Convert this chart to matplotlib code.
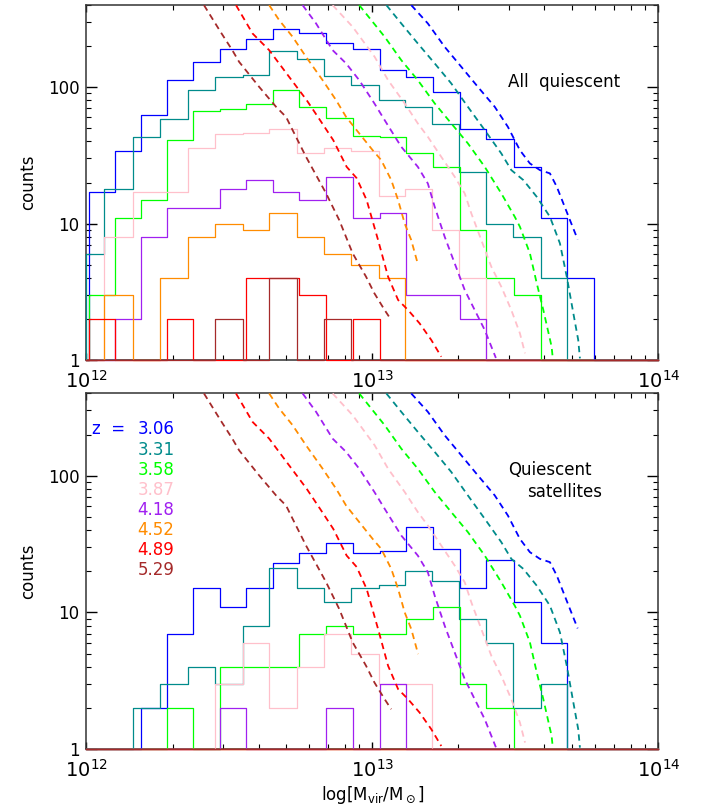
import numpy as np
import matplotlib
matplotlib.use('Agg')
import matplotlib.pyplot as plt
from matplotlib.ticker import NullFormatter, LogLocator, FixedLocator, FixedFormatter

# redshift labels and colours
redshifts = ['3.06', '3.31', '3.58', '3.87', '4.18', '4.52', '4.89', '5.29']
colors = ['#0000ff', '#008b8b', '#00ff00', '#ffc0cb', '#a020f0', '#ff8c00', '#ff0000', '#a52a2a']

# the two bin grids used by the histograms (log10 Mvir)
edges_a = [12.009, 12.099, 12.190, 12.281, 12.373, 12.466, 12.558, 12.651, 12.744, 12.838,
           12.931, 13.026, 13.119, 13.212, 13.305, 13.398, 13.494, 13.589, 13.682, 13.776]
edges_b = [11.965, 12.061, 12.162, 12.258, 12.354, 12.449, 12.546, 12.639, 12.735, 12.830,
           12.926, 13.022, 13.115, 13.208, 13.303, 13.398, 13.492, 13.589, 13.680]
grid_of = ['a', 'b', 'a', 'b', 'a', 'b', 'a', 'b']

# top panel: all quiescent (first bin index, counts)
all_start = [0, 0, 0, 1, 1, 1, 0, 5]
all_306 = [17, 34, 63, 112, 152, 192, 225, 269, 250, 212, 191, 133, 119, 92, 49, 42, 26, 11, 4]
all_331 = [6, 18, 43, 58, 96, 118, 122, 185, 162, 120, 103, 80, 72, 54, 24, 10, 8, 4]
all_358 = [3, 11, 15, 41, 67, 69, 75, 95, 71, 59, 44, 43, 33, 26, 9, 4, 3]
all_387 = [8, 17, 17, 36, 45, 46, 49, 33, 36, 34, 16, 18, 9, 4]
all_418 = [2, 8, 13, 13, 18, 21, 17, 15, 22, 11, 12, 3, 3, 2]
all_452 = [3, 0, 4, 8, 10, 9, 12, 8, 6, 5, 4]
all_489 = [2, 0, 0, 2, 0, 0, 4, 4, 3, 0, 2]
all_529 = [2, 0, 4, 0, 2]

# bottom panel: quiescent satellites
sat_start = [2, 2, 3, 5, 5, 0, 0, 0]
sat_306 = [2, 7, 15, 11, 15, 23, 27, 32, 27, 28, 42, 29, 15, 24, 12, 6]
sat_331 = [2, 3, 4, 3, 8, 21, 15, 12, 15, 16, 20, 17, 9, 6, 2, 3]
sat_358 = [2, 0, 4, 4, 4, 7, 8, 7, 7, 9, 11, 3, 2]
sat_387 = [3, 6, 2, 4, 7, 5, 3, 3]
sat_418 = [2, 0, 0, 0, 2, 0, 3]
sat_452 = []
sat_489 = []
sat_529 = []

# dashed curves (log10 M, log10 N)
hmf_306_m = [13.136, 13.194, 13.253, 13.311, 13.369, 13.428, 13.474, 13.516, 13.551, 13.586, 13.621, 13.645, 13.668, 13.691, 13.718]
hmf_306_n = [2.601, 2.467, 2.295, 2.149, 2.002, 1.856, 1.709, 1.538, 1.441, 1.392, 1.368, 1.270, 1.148, 1.026, 0.884]
hmf_331_m = [13.049, 13.101, 13.159, 13.218, 13.276, 13.334, 13.393, 13.451, 13.486, 13.528, 13.575, 13.621, 13.656, 13.680, 13.703, 13.720, 13.726]
hmf_331_n = [2.601, 2.467, 2.320, 2.174, 2.027, 1.856, 1.685, 1.514, 1.392, 1.319, 1.196, 1.050, 0.855, 0.610, 0.342, 0.147, 0.012]
hmf_358_m = [12.954, 13.043, 13.101, 13.159, 13.218, 13.276, 13.334, 13.393, 13.451, 13.498, 13.516, 13.551, 13.575, 13.598, 13.627, 13.631]
hmf_358_n = [2.601, 2.369, 2.198, 2.051, 1.881, 1.734, 1.588, 1.416, 1.221, 1.050, 0.977, 0.782, 0.562, 0.366, 0.097, 0.012]
hmf_387_m = [12.861, 12.931, 13.008, 13.055, 13.113, 13.159, 13.194, 13.241, 13.288, 13.323, 13.346, 13.381, 13.416, 13.451, 13.486, 13.516, 13.534]
hmf_387_n = [2.601, 2.442, 2.222, 2.051, 1.881, 1.734, 1.636, 1.489, 1.343, 1.221, 1.075, 0.879, 0.684, 0.537, 0.366, 0.196, 0.049]
hmf_418_m = [12.756, 12.803, 12.861, 12.908, 12.954, 13.007, 13.043, 13.101, 13.159, 13.194, 13.218, 13.253, 13.288, 13.323, 13.358, 13.393, 13.432]
hmf_418_n = [2.601, 2.467, 2.271, 2.174, 2.051, 1.881, 1.758, 1.563, 1.416, 1.294, 1.123, 0.903, 0.708, 0.513, 0.366, 0.220, 0.015]
hmf_452_m = [12.639, 12.674, 12.721, 12.768, 12.826, 12.873, 12.908, 12.954, 13.001, 13.031, 13.066, 13.090, 13.113, 13.136, 13.160]
hmf_452_n = [2.601, 2.491, 2.369, 2.222, 2.051, 1.905, 1.782, 1.661, 1.538, 1.465, 1.319, 1.172, 1.001, 0.879, 0.696]
hmf_489_m = [12.523, 12.581, 12.639, 12.700, 12.770, 12.817, 12.863, 12.910, 12.945, 12.980, 13.020, 13.055, 13.090, 13.125, 13.165, 13.206, 13.241]
hmf_489_n = [2.601, 2.393, 2.271, 2.100, 1.905, 1.758, 1.612, 1.416, 1.333, 1.172, 0.879, 0.610, 0.440, 0.366, 0.269, 0.147, 0.024]
hmf_529_m = [12.411, 12.469, 12.510, 12.534, 12.604, 12.663, 12.698, 12.721, 12.768, 12.838, 12.884, 12.931, 12.978, 13.007, 13.043, 13.066]
hmf_529_n = [2.601, 2.405, 2.271, 2.185, 2.002, 1.856, 1.782, 1.685, 1.489, 1.222, 1.026, 0.782, 0.610, 0.489, 0.366, 0.293]

all_counts = [all_306, all_331, all_358, all_387, all_418, all_452, all_489, all_529]
sat_counts = [sat_306, sat_331, sat_358, sat_387, sat_418, sat_452, sat_489, sat_529]
hmf_m = [hmf_306_m, hmf_331_m, hmf_358_m, hmf_387_m, hmf_418_m, hmf_452_m, hmf_489_m, hmf_529_m]
hmf_n = [hmf_306_n, hmf_331_n, hmf_358_n, hmf_387_n, hmf_418_n, hmf_452_n, hmf_489_n, hmf_529_n]

plt.rcParams['font.family'] = ['DejaVu Sans']
plt.rcParams['font.size'] = 12


def draw_hist(ax, grid, start, counts, color):
    e = (edges_a if grid == 'a' else edges_b)[start:start + len(counts) + 1]
    x = np.clip(np.concatenate([[12.0], e, [14.0]]), 12.0, 14.0)
    y = np.concatenate([[0], counts, [0, 0]])
    ax.step(10 ** x, np.maximum(y, 1), where='post', color=color, lw=0.9,
            clip_on=False, zorder=3)


def setup(ax):
    ax.set_xscale('log')
    ax.set_yscale('log')
    ax.set_xlim(1e12, 1e14)
    ax.set_ylim(1, 400)
    ax.yaxis.set_major_locator(FixedLocator([1, 10, 100]))
    ax.yaxis.set_major_formatter(FixedFormatter(['1', '10', '100']))
    ax.yaxis.set_minor_locator(LogLocator(base=10, subs=np.arange(2, 10)))
    ax.yaxis.set_minor_formatter(NullFormatter())
    ax.xaxis.set_minor_formatter(NullFormatter())
    ax.tick_params(which='both', direction='in', top=True, right=True)
    ax.tick_params(axis='y', which='major', length=8, width=1, labelsize=12, pad=5)
    ax.tick_params(axis='y', which='minor', length=3.6, width=0.8)
    ax.tick_params(axis='x', which='major', length=5, width=1, labelsize=14, pad=7)
    ax.tick_params(axis='x', which='minor', length=3.6, width=0.8)
    for s in ax.spines.values():
        s.set_linewidth(1.1)
        s.set_color('#333333')
    ax.set_ylabel('counts', fontsize=12, labelpad=8)


fig = plt.figure(figsize=(7.02, 8.09), dpi=100)
ax1 = fig.add_axes([0.1232, 0.555, 0.8145, 0.4388])
ax2 = fig.add_axes([0.1232, 0.0738, 0.8145, 0.440])

for i in range(8):
    draw_hist(ax1, grid_of[i], all_start[i], all_counts[i], colors[i])
    draw_hist(ax2, grid_of[i], sat_start[i], sat_counts[i], colors[i])

for ax in (ax1, ax2):
    for i in range(8):
        ax.plot(10 ** np.array(hmf_m[i]), 10 ** np.array(hmf_n[i]), color=colors[i],
                ls=(0, (3.5, 2.5)), lw=1.3, zorder=4)
    setup(ax)

ax1.text(0.738, 0.784, 'All  quiescent', transform=ax1.transAxes, va='center', fontsize=12)
ax2.text(0.738, 0.785, 'Quiescent', transform=ax2.transAxes, va='center', fontsize=12)
ax2.text(0.770, 0.724, 'satellites', transform=ax2.transAxes, va='center', fontsize=12)

ys = [0.899, 0.841, 0.785, 0.729, 0.673, 0.617, 0.560, 0.504]
ax2.text(0.010, ys[0], 'z  =', transform=ax2.transAxes, va='center', color=colors[0], fontsize=12)
for i in range(8):
    ax2.text(0.089, ys[i], redshifts[i], transform=ax2.transAxes, va='center',
             color=colors[i], fontsize=12)

ax2.set_xlabel(r'log[M$_{\rm vir}$/M$_\odot$]', fontsize=12, labelpad=2)

fig.savefig('out.png', dpi=100)
